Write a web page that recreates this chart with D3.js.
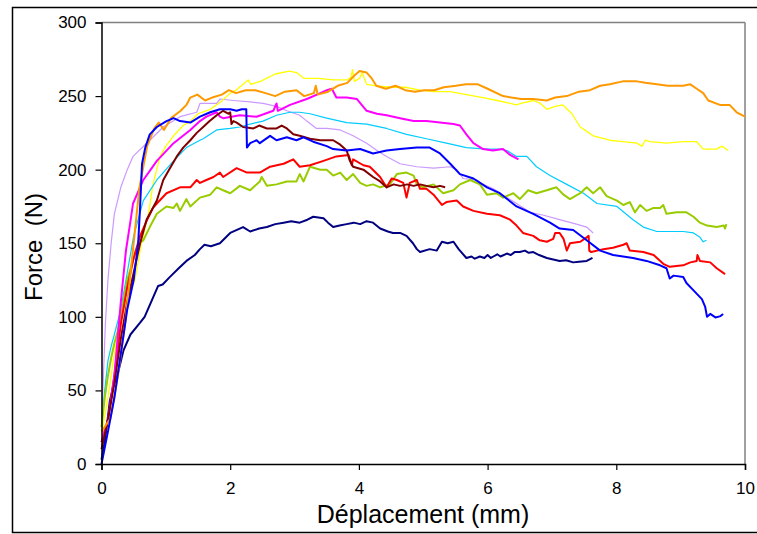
<!DOCTYPE html>
<html><head><meta charset="utf-8">
<script src="https://cdn.jsdelivr.net/npm/d3@7"></script>
<style>body{margin:0;background:#fff}svg{display:block}text{font-family:"Liberation Sans",Arial,sans-serif}</style>
</head><body><svg id="c" width="757" height="534"></svg>
<script>
const xTicks=[0,2,4,6,8,10];
const yTicks=[0,50,100,150,200,250,300];
const xTitle="Déplacement (mm)";
const yTitle="Force  (N)";

const navy=[[0,3],[0.05,15],[0.1,32],[0.13,43],[0.18,52],[0.24,59],[0.34,77],[0.45,88],[0.6,96],[0.67,100],[0.75,108],[0.88,121],[0.95,122],[1.06,127],[1.2,133],[1.32,138],[1.45,142],[1.53,146],[1.6,149],[1.7,148],[1.84,150],[2.0,157],[2.2,161],[2.31,158],[2.45,160],[2.57,161],[2.7,163],[2.83,164],[2.95,165],[3.08,164],[3.2,166],[3.29,168],[3.45,167],[3.52,164],[3.6,161],[3.7,162],[3.81,163],[3.92,164],[4.02,163],[4.12,165],[4.22,164],[4.33,160],[4.45,158],[4.53,157],[4.64,157],[4.74,155],[4.84,150],[4.9,146],[4.95,144],[5.1,146],[5.21,145],[5.29,151],[5.38,150],[5.47,151],[5.55,146],[5.67,140],[5.75,141],[5.8,139.5],[5.88,141],[5.95,140],[6.0,142],[6.05,140],[6.09,141],[6.15,142.5],[6.2,141],[6.3,143],[6.36,142],[6.42,144],[6.5,144],[6.58,145],[6.64,143.5],[6.71,144],[6.8,142],[6.92,140],[7.02,139],[7.12,138],[7.22,138.5],[7.33,137],[7.42,137.5],[7.54,138],[7.63,140]];
const orange=[[0,22],[0.14,31],[0.26,61],[0.37,96],[0.48,142],[0.59,188],[0.71,216],[0.82,228],[0.89,232],[0.97,227],[1.08,235],[1.23,240],[1.32,244],[1.38,249],[1.49,251],[1.61,247],[1.72,249],[1.87,251],[1.98,254],[2.09,252],[2.24,254],[2.39,254],[2.55,252],[2.7,250],[2.85,253],[3.03,254],[3.15,250],[3.3,252],[3.33,257],[3.36,251],[3.52,253],[3.67,257],[3.82,259],[3.93,264],[4.01,267],[4.12,266],[4.2,262],[4.27,257],[4.42,255],[4.57,257],[4.72,254],[4.87,253],[5.02,254],[5.17,254],[5.32,256],[5.51,257],[5.66,258],[5.85,258],[6.0,255],[6.24,250],[6.37,249],[6.52,248],[6.71,248],[6.92,247],[7.05,249],[7.23,250],[7.42,253],[7.59,254],[7.75,257],[7.9,258],[8.1,260],[8.32,260],[8.45,259],[8.63,258],[8.8,257],[9.04,257],[9.15,258],[9.25,255],[9.35,252],[9.43,247],[9.61,244],[9.76,244],[9.87,239],[10,236]];
const yellow=[[0,20],[0.1,45],[0.2,75],[0.3,100],[0.4,112],[0.52,125],[0.62,150],[0.73,170],[0.8,190],[0.91,209],[1.0,216],[1.12,223],[1.27,230],[1.38,233],[1.5,238],[1.69,241],[1.85,246],[2.0,252],[2.09,254],[2.2,258],[2.28,261],[2.32,258],[2.47,260],[2.7,265],[2.92,267],[3.03,266],[3.15,262],[3.37,262],[3.6,261],[3.82,261],[3.88,263],[3.9,268],[3.93,260],[4.01,262],[4.05,266],[4.12,258],[4.27,257],[4.5,256],[4.72,256],[4.95,254],[5.17,253],[5.42,253],[5.67,251],[5.93,249],[6.15,247],[6.45,244],[6.52,245],[6.71,247],[6.82,245],[6.92,241],[7.05,243],[7.17,244],[7.31,238],[7.44,229],[7.54,226],[7.64,223],[7.9,220],[8.1,219],[8.32,218],[8.4,216],[8.45,220],[8.52,219],[8.78,218],[9.04,219],[9.25,219],[9.35,214],[9.56,214],[9.64,216],[9.74,213]];
const magenta=[[0,15],[0.1,30],[0.2,60],[0.3,110],[0.38,145],[0.45,165],[0.49,177],[0.65,193],[0.86,206],[1.12,218],[1.38,227],[1.53,233],[1.63,236],[1.79,239],[1.84,236],[1.89,235],[2.15,237],[2.41,236],[2.67,240],[2.72,245],[2.74,240],[2.93,244],[3.19,248],[3.4,252],[3.5,254],[3.58,255],[3.65,249],[3.81,249],[3.97,248],[4.12,240],[4.28,238],[4.43,237],[4.64,235],[4.85,233],[5.05,233],[5.26,232],[5.47,231],[5.57,230],[5.67,224],[5.78,218],[5.93,214],[6.08,213],[6.24,214],[6.35,210],[6.48,207]];
const cyan=[[0,25],[0.05,50],[0.1,70],[0.15,80],[0.2,88],[0.3,105],[0.4,130],[0.5,155],[0.65,179],[0.86,193],[1.12,206],[1.32,215],[1.53,220],[1.58,221],[1.79,227],[2.0,228],[2.15,229],[2.31,231],[2.51,233],[2.72,237],[2.93,239],[3.08,239],[3.24,238],[3.5,235],[3.81,232],[4.12,231],[4.43,228],[4.74,224],[5.05,221],[5.36,218],[5.67,215],[5.99,214],[6.19,214],[6.3,213],[6.45,209],[6.61,209],[6.76,202],[6.97,196],[7.23,190],[7.49,184],[7.7,177],[8.01,175],[8.26,166],[8.42,161],[8.63,158],[9.04,158],[9.2,157],[9.3,154],[9.35,151],[9.4,152]];
const lavender=[[0,30],[0.03,60],[0.06,95],[0.1,125],[0.15,150],[0.2,170],[0.3,188],[0.4,200],[0.49,209],[0.75,220],[0.96,229],[1.22,236],[1.48,239],[1.53,245],[1.79,245],[1.84,248],[2.05,247],[2.31,246],[2.51,245],[2.72,243],[2.88,240],[3.08,237],[3.19,233],[3.34,228],[3.5,228],[3.71,227],[3.91,223],[4.12,218],[4.28,213],[4.43,209],[4.64,204],[4.9,202],[5.16,201],[5.42,202],[5.52,200],[5.62,194],[5.83,193],[5.93,190],[6.09,187],[6.3,181],[6.45,177],[6.66,171],[6.87,169],[7.12,166],[7.38,163],[7.54,161],[7.64,157]];
const maroon=[[0,10],[0.1,30],[0.2,55],[0.3,85],[0.4,110],[0.5,130],[0.6,150],[0.7,166],[0.86,179],[0.96,193],[1.05,200],[1.17,209],[1.27,215],[1.38,220],[1.48,225],[1.58,229],[1.68,233],[1.79,237],[1.89,240],[1.97,238],[2.0,239],[2.02,231],[2.05,233],[2.1,232],[2.2,229],[2.36,228],[2.45,230],[2.57,228],[2.72,228],[2.8,230],[2.88,228],[2.98,224],[3.08,223],[3.24,221],[3.4,220],[3.5,220],[3.6,220],[3.71,217],[3.81,213],[3.86,206],[3.91,202],[4.07,200],[4.22,195],[4.33,192],[4.43,188],[4.54,190],[4.64,189],[4.75,190],[4.85,189],[4.95,190],[5.05,189],[5.16,188],[5.26,189],[5.34,188]];
const blue=[[0,0],[0.1,22],[0.2,45],[0.3,75],[0.4,105],[0.5,125],[0.57,150],[0.6,175],[0.63,204],[0.68,215],[0.75,224],[0.86,229],[1.01,233],[1.12,235],[1.22,233],[1.38,232],[1.53,236],[1.69,239],[1.84,241],[2.0,241],[2.1,240],[2.18,241],[2.25,241],[2.26,215],[2.31,218],[2.41,220],[2.46,218],[2.62,223],[2.72,220],[2.88,222],[3.03,220],[3.14,222],[3.29,219],[3.5,216],[3.6,214],[3.81,213],[4.02,214],[4.22,211],[4.43,213],[4.64,214],[4.9,215],[5.1,215],[5.26,211],[5.42,204],[5.57,197],[5.78,194],[5.99,188],[6.19,184],[6.45,175],[6.71,170],[6.97,164],[7.12,160],[7.33,159],[7.54,152],[7.75,145],[7.95,142],[8.26,140],[8.47,138],[8.68,135],[8.78,133],[8.83,126],[8.89,128],[9.04,127],[9.09,123],[9.2,118],[9.33,112],[9.38,107],[9.41,100],[9.46,102],[9.54,99.6],[9.62,100.5],[9.66,102]];
const red=[[0,15],[0.1,30],[0.2,60],[0.3,95],[0.4,120],[0.5,140],[0.6,155],[0.7,165],[0.8,174],[0.86,177],[1.01,184],[1.22,188],[1.38,188],[1.48,193],[1.53,191],[1.63,193],[1.74,195],[1.84,198],[1.89,195],[2.1,201],[2.26,198],[2.46,198],[2.62,202],[2.83,204],[2.98,207],[3.08,202],[3.24,203],[3.45,206],[3.65,209],[3.84,210],[3.89,203],[3.91,207],[4.07,203],[4.17,202],[4.33,195],[4.43,188],[4.51,194],[4.59,193],[4.69,191],[4.74,181],[4.79,191],[4.9,193],[4.95,187],[5.05,187],[5.16,183],[5.29,176],[5.36,178],[5.52,179],[5.62,175],[5.78,172],[5.99,170],[6.19,169],[6.35,166],[6.45,162],[6.55,157],[6.71,155],[6.81,152],[6.92,151],[7.02,153],[7.05,157],[7.12,157],[7.18,153],[7.23,145],[7.28,150],[7.44,151],[7.54,154],[7.57,155],[7.58,145],[7.61,144],[7.8,146],[7.95,147],[8.11,149],[8.16,150],[8.21,145],[8.42,144],[8.58,142],[8.73,136],[8.83,134],[9.04,135],[9.15,137],[9.25,138],[9.26,142],[9.3,138],[9.46,137],[9.56,133],[9.69,129]];
const green=[[0,25],[0.05,45],[0.1,60],[0.15,72],[0.2,82],[0.25,90],[0.3,100],[0.4,125],[0.5,140],[0.58,150],[0.65,152],[0.75,161],[0.86,170],[1.01,175],[1.12,174],[1.17,177],[1.22,172],[1.32,180],[1.38,175],[1.53,181],[1.69,183],[1.79,188],[1.89,186],[2.0,184],[2.15,189],[2.31,186],[2.46,192],[2.49,195],[2.57,189],[2.72,190],[2.88,192],[3.03,192],[3.08,197],[3.14,192],[3.24,202],[3.4,200],[3.5,200],[3.6,196],[3.71,198],[3.81,193],[3.91,197],[4.02,191],[4.12,189],[4.22,190],[4.33,188],[4.48,190],[4.59,197],[4.74,198],[4.85,196],[4.9,190],[5.0,188],[5.16,190],[5.31,184],[5.47,186],[5.57,190],[5.73,193],[5.88,190],[5.99,183],[6.14,184],[6.24,181],[6.4,184],[6.5,180],[6.63,186],[6.76,184],[6.92,186],[7.07,188],[7.18,183],[7.28,180],[7.44,184],[7.54,188],[7.64,184],[7.75,188],[7.85,182],[8.01,179],[8.11,176],[8.21,178],[8.29,171],[8.37,176],[8.47,172],[8.58,174],[8.68,174],[8.73,176],[8.78,170],[8.94,171],[9.09,171],[9.2,168],[9.3,164],[9.41,162],[9.56,161],[9.67,162],[9.69,160],[9.71,163]];

const series=[
 {d:lavender,c:"#CC99FF",w:1.2},
 {d:yellow,c:"#FFFF00",w:1.3},
 {d:cyan,c:"#00CCFF",w:1.2},
 {d:green,c:"#99CC00",w:2},
 {d:red,c:"#FF0000",w:2},
 {d:navy,c:"#000080",w:2},
 {d:magenta,c:"#FF00FF",w:2},
 {d:maroon,c:"#800000",w:2},
 {d:orange,c:"#FF9900",w:2},
 {d:blue,c:"#0000FF",w:2}
];

const svg=d3.select("#c");
const L=101.5,R=745,T=22.5,B=464;
const x=d3.scaleLinear().domain([0,10]).range([L,R]);
const y=d3.scaleLinear().domain([0,300]).range([B,T]);

svg.append("rect").attr("x",12.5).attr("y",7.5).attr("width",800).attr("height",525).attr("fill","none").attr("stroke","#000").attr("stroke-width",1.5);
svg.append("line").attr("x1",L).attr("x2",R).attr("y1",T).attr("y2",T).attr("stroke","#808080").attr("stroke-width",1.5);
svg.append("line").attr("x1",R).attr("x2",R).attr("y1",T).attr("y2",B).attr("stroke","#808080").attr("stroke-width",1.5);

const line=d3.line().x(d=>x(d[0])).y(d=>y(d[1]));
const g=svg.append("g");
series.forEach(s=>{
  g.append("path").attr("d",line(s.d)).attr("fill","none").attr("stroke",s.c).attr("stroke-width",s.w).attr("stroke-linejoin","round");
});

const xa=svg.append("g").attr("transform",`translate(0,${B})`).call(d3.axisBottom(x).tickValues(xTicks).tickSize(6).tickPadding(12).tickFormat(d3.format("d")));
const ya=svg.append("g").attr("transform",`translate(${L},0)`).call(d3.axisLeft(y).tickValues(yTicks).tickSize(6).tickPadding(9).tickFormat(d3.format("d")));
[xa,ya].forEach(a=>{a.select(".domain").attr("stroke","#000").attr("stroke-width",1.5);a.selectAll(".tick line").attr("stroke","#000").attr("stroke-width",1.2);a.selectAll("text").attr("font-family","Liberation Sans, Arial, sans-serif").attr("font-size",17).attr("fill","#000");});

svg.append("text").attr("x",423).attr("y",523).attr("text-anchor","middle").attr("font-size",25).text(xTitle);
svg.append("text").attr("transform","translate(42,247) rotate(-90)").attr("text-anchor","middle").attr("font-size",24).attr("xml:space","preserve").style("white-space","pre").text(yTitle);
</script></body></html>
